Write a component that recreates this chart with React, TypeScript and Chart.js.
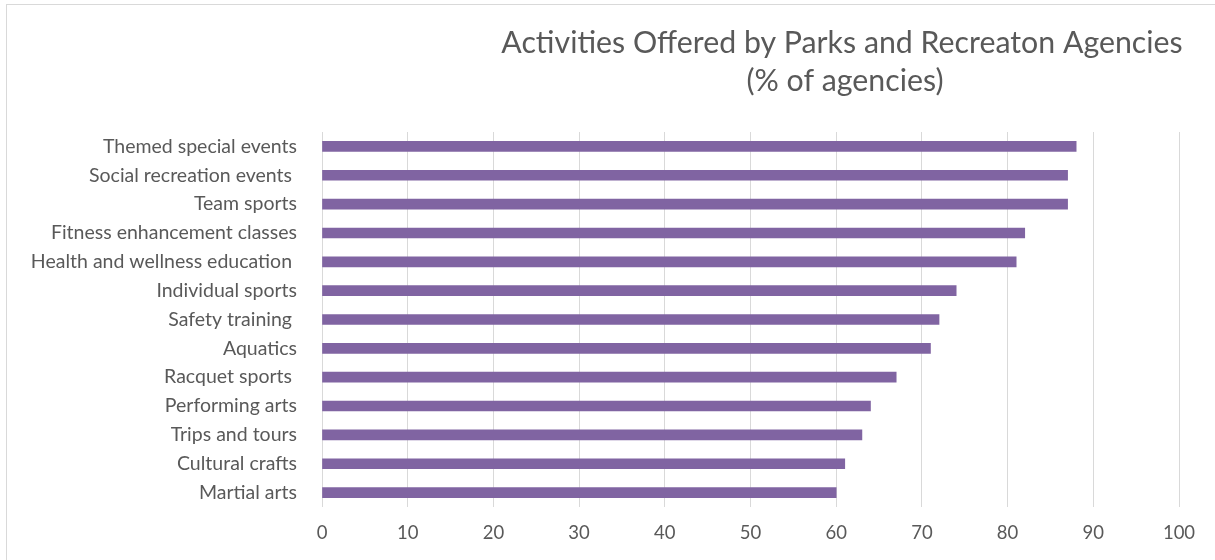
import React, { useEffect, useRef } from "react";
import { Chart, registerables } from "chart.js";

Chart.register(...registerables);

const categories = [
  "Themed special events",
  "Social recreation events ",
  "Team sports",
  "Fitness enhancement classes",
  "Health and wellness education ",
  "Individual sports",
  "Safety training ",
  "Aquatics",
  "Racquet sports ",
  "Performing arts",
  "Trips and tours",
  "Cultural crafts",
  "Martial arts",
];

const values = [88, 87, 87, 82, 81, 74, 72, 71, 67, 64, 63, 61, 60];

const xMin = 0;
const xMax = 100;
const xStep = 10;

const titleLines = [
  "Activities Offered by Parks and Recreaton Agencies",
  "(% of agencies)",
];

const FONT = "Lato, 'DejaVu Sans', sans-serif";
const TEXT = "#595959";

const framePlugin = {
  id: "frameAndTitle",
  beforeDraw(chart: any) {
    const ctx = chart.ctx;
    ctx.save();
    ctx.fillStyle = "#ffffff";
    ctx.fillRect(0, 0, chart.width, chart.height);
    ctx.strokeStyle = "#D9D9D9";
    ctx.lineWidth = 1;
    ctx.strokeRect(6.5, 4.5, chart.width + 20, chart.height + 20);
    ctx.restore();
  },
  afterDraw(chart: any) {
    const ctx = chart.ctx;
    ctx.save();
    ctx.fillStyle = TEXT;
    ctx.font = `30.3px ${FONT}`;
    ctx.textAlign = "center";
    ctx.textBaseline = "alphabetic";
    ctx.fillText(titleLines[0], 842, 53);
    ctx.fillText(titleLines[1], 845, 91);
    ctx.restore();
  },
};

export default function App() {
  const ref = useRef<HTMLCanvasElement | null>(null);

  useEffect(() => {
    if (!ref.current) return;
    const chart = new Chart(ref.current, {
      type: "bar",
      data: {
        labels: categories,
        datasets: [
          {
            data: values,
            backgroundColor: "#8064A2",
            borderWidth: 0,
            barThickness: 10,
          },
        ],
      },
      options: {
        indexAxis: "y",
        animation: false,
        responsive: false,
        layout: { padding: { left: 0, top: 132, right: 36, bottom: 0 } },
        plugins: {
          legend: { display: false },
          title: { display: false },
          tooltip: { enabled: false },
        },
        scales: {
          x: {
            type: "linear",
            min: xMin,
            max: xMax,
            ticks: {
              stepSize: xStep,
              color: TEXT,
              font: { family: FONT, size: 18.5 },
              padding: 15,
            },
            grid: { color: "#D9D9D9", drawTicks: false },
            border: { display: false },
            afterFit(s: any) {
              s.height = 53;
            },
          },
          y: {
            type: "category",
            ticks: {
              color: TEXT,
              font: { family: FONT, size: 19.5 },
              padding: 25,
              autoSkip: false,
            },
            grid: { display: false, drawTicks: false },
            border: { display: false },
            afterFit(s: any) {
              s.width = 322;
            },
          },
        },
      },
      plugins: [framePlugin],
    });
    return () => chart.destroy();
  }, []);

  return (
    <div style={{ position: "absolute", left: 0, top: 0, width: 1215, height: 560 }}>
      <canvas ref={ref} width={1215} height={560} style={{ display: "block" }} />
    </div>
  );
}
